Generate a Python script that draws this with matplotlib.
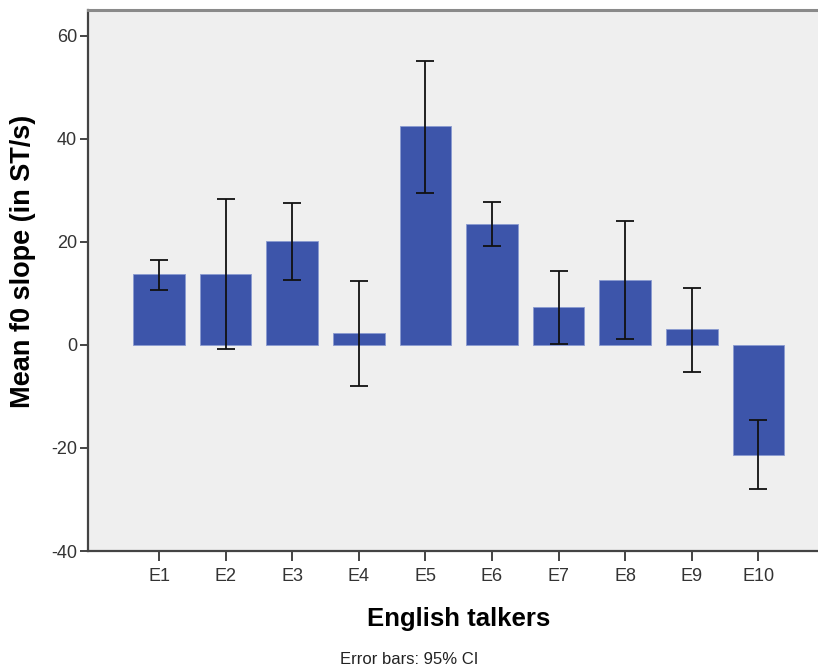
import matplotlib.pyplot as plt
import numpy as np

talkers = ["E1", "E2", "E3", "E4", "E5", "E6", "E7", "E8", "E9", "E10"]
mean_slope = [13.7, 13.8, 20.1, 2.3, 42.4, 23.5, 7.4, 12.6, 3.0, -21.4]
ci_low = [10.7, -0.8, 12.6, -8.0, 29.5, 19.2, 0.2, 1.1, -5.2, -28.0]
ci_high = [16.4, 28.4, 27.6, 12.4, 55.1, 27.7, 14.4, 24.0, 11.1, -14.5]

plt.rcParams['font.family'] = ['Liberation Sans', 'DejaVu Sans']
plt.rcParams['axes.unicode_minus'] = False

x = np.arange(len(talkers))
mean_arr = np.array(mean_slope)
yerr = [mean_arr - np.array(ci_low), np.array(ci_high) - mean_arr]

fig = plt.figure(figsize=(8.18, 6.71), dpi=100)
ax = fig.add_axes([0.1076, 0.1788, 0.8924, 0.807])
ax.set_facecolor('#efefef')

ax.bar(x, mean_slope, width=0.776, color='#3d55aa', edgecolor='#8a9ad0', linewidth=0.6, zorder=2)
ax.errorbar(x, mean_slope, yerr=yerr, fmt='none', ecolor='#111111', elinewidth=1.3,
            capsize=6.2, capthick=1.3, zorder=3)

ax.set_xlim(-1.066, 9.895)
ax.set_ylim(-40, 65.1)
ax.set_yticks([-40, -20, 0, 20, 40, 60])
ax.set_xticks(x)
ax.set_xticklabels(talkers)

for side in ['left', 'bottom']:
    ax.spines[side].set_color('#444444')
    ax.spines[side].set_linewidth(1.6)
ax.spines['top'].set_color('#8a8a8a')
ax.spines['top'].set_linewidth(2.2)
ax.spines['right'].set_visible(False)

ax.tick_params(axis='both', direction='out', colors='#444444', labelcolor='#333333',
               labelsize=13, width=1.4)
ax.tick_params(axis='y', length=6, pad=2)
ax.tick_params(axis='x', length=7, pad=5)

ax.set_ylabel('Mean f0 slope (in ST/s)', fontsize=19.5, fontweight='bold')
ax.yaxis.set_label_coords(-0.071, 0.534)
ax.set_xlabel('English talkers', fontsize=18.5, fontweight='bold')
ax.xaxis.set_label_coords(0.508, -0.104)

fig.text(0.5, 0.006, 'Error bars: 95% CI', ha='center', va='bottom', fontsize=12, color='#222222')

fig.savefig('out.png', dpi=100)
